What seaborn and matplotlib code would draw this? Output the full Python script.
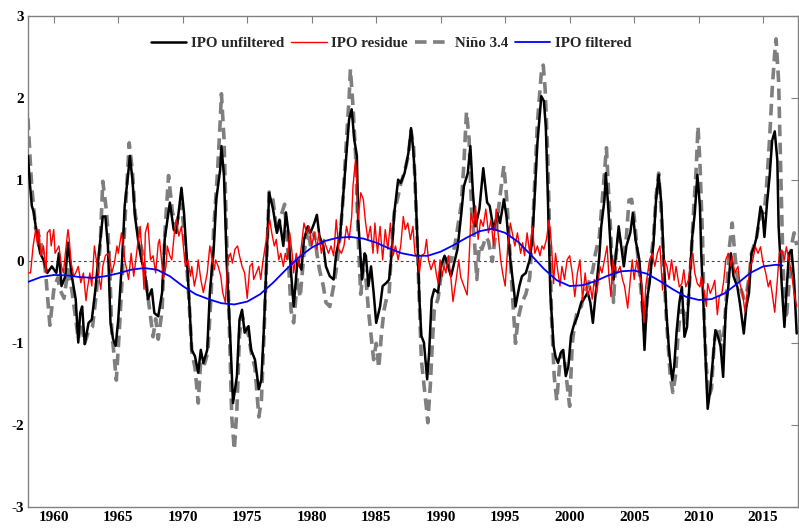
import numpy as np
import pandas as pd
import matplotlib
matplotlib.use("Agg")
import matplotlib.pyplot as plt
import seaborn as sns

# ---------------- data ----------------
ipo_t = [1958.0, 1958.15, 1958.3, 1958.45, 1958.7, 1958.95, 1959.2, 1959.5, 1959.85, 1960.2, 1960.4, 1960.6, 1960.9,
         1961.1, 1961.4, 1961.7, 1961.9, 1962.05, 1962.2, 1962.4, 1962.7, 1962.95, 1963.2, 1963.5, 1963.8, 1964.0,
         1964.2, 1964.4, 1964.6, 1964.8, 1965.0, 1965.3, 1965.5, 1965.8, 1965.9, 1966.1, 1966.3, 1966.6, 1966.8,
         1967.1, 1967.3, 1967.6, 1967.8, 1968.1, 1968.4, 1968.6, 1969.0, 1969.3, 1969.5, 1969.9, 1970.1, 1970.4,
         1970.7, 1970.95, 1971.2, 1971.4, 1971.6, 1971.9, 1972.1, 1972.4, 1972.6, 1972.9, 1973.0, 1973.2, 1973.4,
         1973.7, 1973.9, 1974.2, 1974.4, 1974.6, 1974.8, 1975.1, 1975.3, 1975.6, 1975.9, 1976.1, 1976.3, 1976.5,
         1976.7, 1977.0, 1977.3, 1977.5, 1977.8, 1978.0, 1978.2, 1978.4, 1978.6, 1978.9, 1979.2, 1979.4, 1979.7,
         1979.9, 1980.2, 1980.4, 1980.6, 1980.9, 1981.1, 1981.4, 1981.7, 1981.9, 1982.2, 1982.4, 1982.7, 1982.9,
         1983.1, 1983.3, 1983.5, 1983.6, 1983.9, 1984.1, 1984.2, 1984.4, 1984.6, 1984.8, 1985.0, 1985.3, 1985.5,
         1985.8, 1986.0, 1986.2, 1986.4, 1986.7, 1986.9, 1987.2, 1987.5, 1987.7, 1987.85, 1988.0, 1988.2, 1988.35,
         1988.5, 1988.7, 1988.95, 1989.1, 1989.3, 1989.5, 1989.8, 1990.0, 1990.3, 1990.5, 1990.8, 1991.1, 1991.3,
         1991.6, 1991.8, 1992.1, 1992.3, 1992.5, 1992.7, 1993.0, 1993.3, 1993.6, 1993.8, 1994.1, 1994.4, 1994.6,
         1994.9, 1995.1, 1995.4, 1995.7, 1995.8, 1996.1, 1996.3, 1996.6, 1996.9, 1997.1, 1997.3, 1997.5, 1997.8,
         1998.0, 1998.15, 1998.3, 1998.5, 1998.75, 1998.9, 1999.1, 1999.3, 1999.5, 1999.7, 1999.9, 2000.1, 2000.3,
         2000.6, 2000.9, 2001.1, 2001.4, 2001.6, 2001.8, 2002.0, 2002.3, 2002.45, 2002.7, 2002.8, 2003.0, 2003.2,
         2003.4, 2003.6, 2003.8, 2004.0, 2004.2, 2004.4, 2004.7, 2004.9, 2005.1, 2005.4, 2005.6, 2005.8, 2006.0,
         2006.2, 2006.5, 2006.7, 2006.9, 2007.1, 2007.3, 2007.5, 2007.7, 2007.95, 2008.1, 2008.3, 2008.5, 2008.7,
         2008.9, 2009.1, 2009.3, 2009.5, 2009.7, 2009.9, 2010.1, 2010.2, 2010.4, 2010.6, 2010.7, 2010.9, 2011.1,
         2011.3, 2011.5, 2011.7, 2011.9, 2012.1, 2012.3, 2012.5, 2012.7, 2013.0, 2013.2, 2013.5, 2013.7, 2013.9,
         2014.1, 2014.3, 2014.5, 2014.8, 2014.95, 2015.1, 2015.3, 2015.5, 2015.7, 2015.9, 2016.1, 2016.2, 2016.45,
         2016.65, 2016.8, 2017.0, 2017.2, 2017.4, 2017.6]
ipo_v = [1.29, 0.95, 0.68, 0.6, 0.31, 0.1, 0.02, -0.14, -0.06, -0.14, 0.1, -0.3, -0.18,
         0.23, -0.18, -0.46, -0.99, -0.63, -0.55, -1.01, -0.75, -0.71, -0.38, 0.1, 0.55, 0.55,
         0.19, -0.75, -0.95, -1.03, -0.71, 0.02, 0.68, 1.12, 1.29, 1.0, 0.55, 0.19, 0.02,
         -0.18, -0.46, -0.34, -0.63, -0.67, -0.38, 0.27, 0.72, 0.39, 0.35, 0.9, 0.59, -0.18,
         -1.08, -1.16, -1.36, -1.08, -1.24, -1.08, -0.38, 0.15, 0.76, 1.12, 1.41, 1.04, 0.02,
         -0.99, -1.73, -1.4, -0.71, -0.59, -0.87, -0.79, -1.08, -1.2, -1.56, -1.44, -0.79, 0.02,
         0.84, 0.64, 0.35, 0.51, 0.19, 0.6, 0.35, -0.14, -0.55, 0.02, -0.1, 0.27, 0.43,
         0.35, 0.47, 0.57, 0.31, 0.19, -0.06, -0.18, -0.22, 0.1, 0.31, 0.72, 1.33, 1.74,
         1.86, 1.49, 1.29, 0.51, -0.22, 0.1, 0.07, -0.3, -0.06, -0.38, -0.75, -0.55, -0.3,
         -0.26, -0.22, 0.1, 0.59, 1.0, 0.96, 1.08, 1.33, 1.63, 1.41, 1.06, 0.23, -0.46,
         -0.91, -0.99, -1.44, -1.12, -0.46, -0.34, -0.38, -0.06, 0.07, -0.02, -0.18, 0.02, 0.15,
         0.59, 0.92, 1.08, 1.41, 0.84, 0.43, 0.64, 1.14, 0.72, 0.68, 0.39, 0.59, 0.47,
         0.76, 0.55, 0.02, -0.38, -0.55, -0.3, -0.18, -0.14, 0.02, 0.27, 0.84, 1.45, 2.02,
         1.96, 1.65, 0.84, -0.38, -1.03, -1.16, -1.24, -1.12, -1.08, -1.4, -1.28, -0.91, -0.79,
         -0.67, -0.5, -0.46, -0.38, -0.5, -0.75, -0.42, 0.07, 0.43, 0.76, 1.08, 0.64, 0.1,
         -0.22, 0.1, 0.43, 0.19, -0.06, 0.19, 0.35, 0.59, 0.27, 0.02, -0.38, -1.08, -0.46,
         -0.26, 0.23, 0.76, 1.06, 0.72, 0.02, -0.63, -1.08, -1.45, -1.29, -0.84, -0.51, -0.31,
         -0.92, -0.8, -0.23, 0.3, 0.59, 1.06, 0.67, 0.1, -0.63, -1.45, -1.8, -1.57, -1.2,
         -0.84, -0.92, -1.04, -1.41, -0.59, -0.31, 0.1, -0.18, -0.31, -0.51, -0.88, -0.55, -0.39,
         0.1, 0.18, 0.3, 0.67, 0.59, 0.3, 0.71, 1.04, 1.48, 1.59, 1.24, 0.43, -0.31,
         -0.8, -0.39, 0.1, 0.14, -0.23, -0.88]

nino_t = [1958.0, 1958.15, 1958.3, 1958.6, 1958.9, 1959.2, 1959.4, 1959.7, 1960.0, 1960.3, 1960.5, 1960.8, 1961.1,
          1961.4, 1961.7, 1961.9, 1962.1, 1962.4, 1962.7, 1963.0, 1963.3, 1963.6, 1963.8, 1964.1, 1964.3, 1964.5,
          1964.7, 1964.85, 1965.1, 1965.4, 1965.6, 1965.85, 1966.1, 1966.3, 1966.6, 1966.9, 1967.2, 1967.4, 1967.7,
          1967.9, 1968.1, 1968.4, 1968.6, 1968.9, 1969.2, 1969.5, 1969.9, 1970.2, 1970.5, 1970.7, 1970.95, 1971.2,
          1971.4, 1971.7, 1971.95, 1972.2, 1972.4, 1972.7, 1972.9, 1973.0, 1973.2, 1973.4, 1973.6, 1973.8, 1974.0,
          1974.2, 1974.4, 1974.6, 1974.8, 1975.1, 1975.3, 1975.6, 1975.9, 1976.1, 1976.3, 1976.5, 1976.7, 1977.0,
          1977.3, 1977.6, 1977.9, 1978.2, 1978.4, 1978.6, 1978.9, 1979.1, 1979.4, 1979.7, 1979.9, 1980.2, 1980.4,
          1980.6, 1980.9, 1981.1, 1981.4, 1981.7, 1981.9, 1982.2, 1982.4, 1982.7, 1982.9, 1983.0, 1983.2, 1983.4,
          1983.6, 1983.8, 1984.0, 1984.2, 1984.4, 1984.6, 1984.8, 1985.0, 1985.2, 1985.4, 1985.6, 1985.8, 1986.0,
          1986.2, 1986.4, 1986.7, 1986.9, 1987.2, 1987.5, 1987.7, 1987.9, 1988.1, 1988.3, 1988.5, 1988.7, 1988.9,
          1989.0, 1989.2, 1989.35, 1989.5, 1989.8, 1990.0, 1990.3, 1990.5, 1990.8, 1991.1, 1991.3, 1991.6, 1991.8,
          1992.0, 1992.2, 1992.4, 1992.6, 1992.8, 1993.0, 1993.2, 1993.5, 1993.7, 1994.0, 1994.3, 1994.6, 1994.9,
          1995.1, 1995.3, 1995.6, 1995.8, 1996.0, 1996.3, 1996.6, 1996.9, 1997.1, 1997.3, 1997.5, 1997.8, 1997.95,
          1998.1, 1998.3, 1998.45, 1998.6, 1998.8, 1999.0, 1999.2, 1999.4, 1999.6, 1999.8, 2000.0, 2000.2, 2000.4,
          2000.6, 2000.9, 2001.1, 2001.4, 2001.6, 2001.8, 2002.0, 2002.3, 2002.5, 2002.7, 2002.85, 2003.0, 2003.2,
          2003.4, 2003.6, 2003.8, 2004.0, 2004.2, 2004.4, 2004.6, 2004.8, 2005.0, 2005.2, 2005.5, 2005.8, 2006.0,
          2006.2, 2006.5, 2006.7, 2006.9, 2007.1, 2007.3, 2007.5, 2007.8, 2008.0, 2008.2, 2008.4, 2008.6, 2008.8,
          2009.0, 2009.2, 2009.4, 2009.6, 2009.8, 2009.95, 2010.1, 2010.3, 2010.45, 2010.6, 2010.8, 2011.0, 2011.2,
          2011.4, 2011.6, 2011.8, 2012.0, 2012.2, 2012.4, 2012.6, 2012.8, 2013.0, 2013.3, 2013.5, 2013.7, 2013.9,
          2014.1, 2014.3, 2014.5, 2014.7, 2014.9, 2015.1, 2015.3, 2015.5, 2015.7, 2015.9, 2016.0, 2016.2, 2016.35,
          2016.5, 2016.65, 2016.8, 2017.0, 2017.2, 2017.4, 2017.6]
nino_v = [1.75, 1.3, 0.9, 0.4, 0.3, 0.1, -0.2, -0.78, -0.35, -0.2, -0.35, -0.45, -0.1,
          -0.35, -0.7, -0.95, -0.75, -1.0, -0.85, -0.8, -0.4, 0.2, 0.98, 0.6, 0.1, -0.85,
          -1.2, -1.45, -0.8, 0.1, 0.75, 1.45, 1.1, 0.6, 0.3, 0.1, -0.3, -0.55, -0.92,
          -0.7, -0.95, -0.6, 0.3, 1.05, 0.6, 0.45, 0.7, 0.2, -0.5, -1.1, -1.3, -1.73,
          -1.2, -1.25, -1.1, -0.4, 0.4, 1.1, 1.7, 2.05, 1.5, 0.3, -0.7, -1.9, -2.3,
          -1.8, -0.9, -0.65, -0.8, -0.9, -1.1, -1.3, -1.9, -1.7, -0.9, 0.0, 0.85, 0.75,
          0.35, 0.55, 0.7, 0.0, -0.6, -0.75, -0.2, -0.44, 0.1, 0.4, 0.2, 0.35, 0.1,
          -0.1, -0.3, -0.5, -0.55, -0.3, -0.1, 0.3, 0.7, 1.5, 2.0, 2.35, 1.9, 1.3,
          0.3, -0.4, -0.1, -0.2, -0.6, -0.9, -1.2, -1.0, -1.3, -0.9, -0.6, -0.45, -0.4,
          0.2, 0.6, 0.8, 0.95, 1.1, 1.3, 1.6, 1.4, 0.6, -0.3, -1.2, -1.5, -1.8,
          -1.97, -1.5, -1.0, -0.6, -0.45, -0.2, 0.0, 0.1, 0.0, 0.2, 0.4, 0.7, 1.2,
          1.83, 1.5, 0.6, 0.3, -0.22, 0.2, 0.15, 0.3, 0.25, 0.0, 0.4, 0.8, 1.17,
          0.8, 0.3, -0.5, -1.0, -0.7, -0.5, -0.4, -0.2, 0.3, 1.0, 1.7, 2.3, 2.4,
          2.1, 1.3, 0.3, -0.7, -1.4, -1.7, -1.3, -1.1, -1.2, -1.5, -1.77, -1.0, -0.75,
          -0.6, -0.55, -0.4, -0.3, -0.2, -0.1, 0.1, 0.3, 0.7, 1.1, 1.39, 0.9, 0.3,
          -0.5, 0.1, 0.3, 0.2, 0.1, 0.3, 0.75, 0.76, 0.55, 0.2, -0.3, -0.85, -0.5,
          -0.1, 0.3, 0.8, 1.08, 0.6, -0.1, -0.7, -1.4, -1.6, -1.4, -0.9, -0.6, -0.6,
          -0.75, -0.5, 0.0, 0.6, 1.1, 1.65, 1.2, 0.3, -0.8, -1.3, -1.65, -1.55, -1.0,
          -0.8, -0.85, -1.1, -0.8, -0.3, 0.2, 0.47, 0.1, -0.2, -0.35, -0.45, -0.4, -0.2,
          0.1, 0.2, 0.3, 0.5, 0.6, 0.6, 1.0, 1.5, 2.1, 2.55, 2.72, 2.2, 1.2,
          0.2, -0.5, -0.7, -0.3, 0.2, 0.35, 0.2]

resid_t = [1958.0, 1958.2, 1958.4, 1958.6, 1958.75, 1958.85, 1959.0, 1959.2, 1959.4, 1959.5, 1959.7, 1959.8, 1960.0,
           1960.1, 1960.4, 1960.6, 1960.75, 1960.9, 1961.1, 1961.2, 1961.35, 1961.55, 1961.7, 1961.9, 1962.1, 1962.3,
           1962.5, 1962.6, 1962.8, 1962.95, 1963.15, 1963.3, 1963.45, 1963.65, 1963.8, 1964.0, 1964.2, 1964.35, 1964.5,
           1964.7, 1964.9, 1965.0, 1965.25, 1965.4, 1965.5, 1965.8, 1966.0, 1966.2, 1966.3, 1966.55, 1966.7, 1966.8,
           1967.0, 1967.1, 1967.3, 1967.5, 1967.7, 1967.9, 1968.1, 1968.2, 1968.4, 1968.5, 1968.7, 1968.8, 1969.0,
           1969.15, 1969.35, 1969.5, 1969.7, 1969.9, 1970.05, 1970.2, 1970.4, 1970.6, 1970.7, 1970.9, 1971.1, 1971.2,
           1971.4, 1971.6, 1971.8, 1971.9, 1972.1, 1972.2, 1972.45, 1972.55, 1972.75, 1972.95, 1973.1, 1973.3, 1973.5,
           1973.7, 1973.85, 1974.05, 1974.25, 1974.4, 1974.6, 1974.8, 1975.0, 1975.2, 1975.4, 1975.5, 1975.7, 1975.9,
           1976.05, 1976.2, 1976.4, 1976.55, 1976.75, 1976.9, 1977.1, 1977.25, 1977.45, 1977.6, 1977.8, 1977.95, 1978.1,
           1978.3, 1978.5, 1978.6, 1978.8, 1979.0, 1979.2, 1979.4, 1979.6, 1979.8, 1980.0, 1980.2, 1980.4, 1980.55,
           1980.75, 1980.95, 1981.1, 1981.3, 1981.5, 1981.7, 1981.9, 1982.1, 1982.3, 1982.5, 1982.7, 1982.9, 1983.1,
           1983.2, 1983.4, 1983.5, 1983.6, 1983.8, 1984.0, 1984.15, 1984.35, 1984.55, 1984.75, 1984.9, 1985.1, 1985.3,
           1985.5, 1985.7, 1985.9, 1986.1, 1986.3, 1986.5, 1986.7, 1986.9, 1987.1, 1987.25, 1987.45, 1987.65, 1987.85,
           1988.0, 1988.2, 1988.35, 1988.5, 1988.75, 1988.9, 1989.05, 1989.25, 1989.5, 1989.65, 1989.8, 1989.95, 1990.1,
           1990.25, 1990.4, 1990.6, 1990.8, 1990.95, 1991.2, 1991.4, 1991.55, 1991.8, 1992.05, 1992.2, 1992.35, 1992.55,
           1992.7, 1992.9, 1993.1, 1993.3, 1993.5, 1993.7, 1993.9, 1994.1, 1994.3, 1994.45, 1994.65, 1994.8, 1995.0,
           1995.2, 1995.4, 1995.6, 1995.75, 1995.95, 1996.2, 1996.35, 1996.5, 1996.7, 1996.9, 1997.1, 1997.3, 1997.5,
           1997.7, 1997.85, 1998.0, 1998.2, 1998.4, 1998.6, 1998.75, 1998.9, 1999.1, 1999.25, 1999.4, 1999.6, 1999.8,
           2000.0, 2000.2, 2000.4, 2000.6, 2000.8, 2001.0, 2001.2, 2001.4, 2001.6, 2001.75, 2001.9, 2002.1, 2002.35,
           2002.5, 2002.7, 2002.9, 2003.05, 2003.2, 2003.35, 2003.5, 2003.7, 2003.9, 2004.1, 2004.25, 2004.5, 2004.7,
           2004.85, 2005.0, 2005.2, 2005.4, 2005.6, 2005.75, 2005.9, 2006.05, 2006.2, 2006.4, 2006.6, 2006.8, 2007.0,
           2007.2, 2007.35, 2007.55, 2007.7, 2007.9, 2008.1, 2008.25, 2008.5, 2008.7, 2008.85, 2009.0, 2009.2, 2009.4,
           2009.55, 2009.7, 2009.9, 2010.1, 2010.2, 2010.4, 2010.6, 2010.7, 2010.9, 2011.1, 2011.25, 2011.45, 2011.6,
           2011.8, 2011.95, 2012.1, 2012.3, 2012.5, 2012.6, 2012.8, 2013.05, 2013.2, 2013.4, 2013.6, 2013.8, 2014.0,
           2014.2, 2014.4, 2014.6, 2014.8, 2014.95, 2015.2, 2015.4, 2015.55, 2015.7, 2015.9, 2016.1, 2016.25, 2016.45,
           2016.65, 2016.8, 2017.0, 2017.2, 2017.4, 2017.6]
resid_v = [-0.14, -0.14, 0.19, 0.39, 0.19, 0.39, 0.07, 0.19, -0.14, 0.35, 0.39, 0.19, 0.39,
           0.1, 0.19, -0.06, -0.14, 0.1, 0.39, 0.27, -0.02, -0.18, -0.14, -0.06, -0.26, -0.14,
           -0.48, -0.34, -0.14, -0.3, 0.19, 0.02, -0.14, -0.34, -0.06, 0.07, 0.1, 0.02, -0.14,
           -0.02, 0.19, 0.1, 0.35, 0.19, 0.02, -0.22, 0.1, -0.18, -0.06, 0.27, 0.43, 0.19,
           -0.34, 0.35, 0.47, 0.02, 0.07, -0.14, 0.22, 0.27, -0.06, -0.22, -0.06, 0.19, 0.07,
           0.02, 0.35, 0.51, 0.31, 0.43, 0.19, -0.06, 0.02, -0.18, -0.06, -0.3, -0.14, 0.02,
           -0.22, -0.38, -0.22, -0.14, 0.19, 0.1, -0.1, 0.02, -0.06, -0.18, -0.38, -0.5, 0.02,
           0.1, -0.02, 0.15, 0.19, 0.07, -0.06, -0.14, -0.45, -0.06, -0.02, -0.22, -0.14, -0.06,
           -0.22, -0.02, 0.19, 0.35, 0.51, 0.35, 0.19, 0.27, 0.02, 0.1, -0.06, 0.1, 0.02,
           0.35, 0.07, -0.14, 0.1, -0.06, 0.19, 0.47, 0.35, 0.43, 0.19, 0.35, 0.15, 0.35,
           0.1, 0.27, 0.19, 0.1, 0.19, 0.07, 0.51, 0.15, 0.1, 0.19, 0.43, 0.27, 0.55,
           0.92, 1.25, 0.92, 0.51, 0.84, 0.76, 0.51, 0.27, 0.43, 0.1, 0.47, 0.1, 0.43,
           0.02, 0.39, 0.15, 0.47, 0.07, 0.19, 0.02, 0.19, 0.55, 0.39, 0.47, 0.27, 0.43,
           0.1, 0.05, -0.14, 0.07, 0.1, 0.27, 0.02, -0.1, 0.02, -0.14, -0.27, 0.02, -0.18,
           -0.06, -0.14, 0.07, -0.22, -0.49, -0.22, 0.02, -0.19, -0.3, -0.41, 0.02, 0.59, 0.43,
           0.68, 0.27, 0.51, 0.43, 0.64, 0.35, 0.51, 0.19, 0.64, 0.35, 0.02, -0.14, -0.3,
           0.19, 0.47, 0.31, 0.19, 0.35, 0.1, 0.23, 0.07, 0.35, 0.1, 0.43, 0.1, 0.19,
           0.07, 0.19, 0.15, 0.27, 0.51, 0.19, -0.27, 0.1, -0.14, -0.3, -0.06, -0.22, 0.02,
           0.07, -0.14, -0.43, -0.14, 0.02, -0.47, -0.14, -0.42, -0.3, -0.46, -0.22, -0.39, -0.06,
           -0.14, 0.02, 0.19, -0.2, -0.43, 0.02, -0.1, -0.14, -0.06, -0.22, -0.3, -0.57, -0.22,
           0.02, -0.22, 0.02, -0.14, -0.3, -0.75, -0.3, -0.14, 0.02, 0.1, -0.06, 0.1, 0.19,
           -0.35, 0.02, -0.06, -0.22, 0.02, -0.23, -0.06, -0.31, -0.27, -0.1, -0.31, -0.23, 0.02,
           0.1, -0.14, -0.27, -0.31, -0.18, -0.35, -0.55, -0.27, -0.39, -0.31, -0.23, -0.65, -0.43,
           -0.39, -0.23, 0.02, 0.1, -0.06, 0.06, -0.14, -0.06, -0.27, -0.39, -0.62, -0.31, -0.06,
           0.02, 0.18, 0.1, 0.18, 0.02, -0.14, -0.31, -0.23, -0.39, -0.62, -0.23, 0.1, 0.14,
           0.02, 0.18, 0.02, -0.14, -0.39, -0.55]

filt_t = [1958, 1959, 1960, 1961, 1962, 1963, 1964, 1965, 1966, 1967, 1968, 1969, 1970, 1971, 1972, 1973, 1974,
          1975, 1976, 1977, 1978, 1979, 1980, 1981, 1982, 1983, 1984, 1985, 1986, 1987, 1988, 1989, 1990, 1991,
          1992, 1993, 1994, 1995, 1996, 1997, 1998, 1999, 2000, 2001, 2002, 2003, 2004, 2005, 2006, 2007, 2008,
          2009, 2010, 2011, 2012, 2013, 2014, 2015, 2016, 2016.5]
filt_v = [-0.25, -0.19, -0.165, -0.17, -0.19, -0.2, -0.18, -0.145, -0.1, -0.08, -0.1, -0.18, -0.3, -0.4, -0.46,
          -0.51, -0.525, -0.49, -0.4, -0.26, -0.1, 0.05, 0.17, 0.25, 0.29, 0.3, 0.28, 0.23, 0.16, 0.1, 0.07, 0.07,
          0.12, 0.2, 0.29, 0.37, 0.4, 0.35, 0.24, 0.08, -0.09, -0.23, -0.3, -0.29, -0.24, -0.17, -0.12, -0.11,
          -0.15, -0.24, -0.34, -0.43, -0.47, -0.46, -0.39, -0.27, -0.14, -0.06, -0.04, -0.05]

year_ticks = [1960, 1965, 1970, 1975, 1980, 1985, 1990, 1995, 2000, 2005, 2010, 2015]
value_ticks = [-3, -2, -1, 0, 1, 2, 3]

# ---------------- figure ----------------
sns.set_style("white")
plt.rcParams['font.family'] = ['Liberation Serif', 'DejaVu Serif']
plt.rcParams['font.weight'] = 'bold'

fig = plt.figure(figsize=(7.99, 5.28), dpi=100)
ax = fig.add_axes([0.035, 0.0398, 0.9637, 0.9299])

ax.axhline(0, color='#444444', lw=0.8, ls=(0, (2.5, 2.5)), zorder=1)

sns.lineplot(x=nino_t, y=nino_v, ax=ax, color='#7f7f7f', lw=2.6, sort=False, estimator=None,
             label='Niño 3.4', zorder=2)
ax.lines[-1].set_dashes((3.2, 1.8))
sns.lineplot(x=ipo_t, y=ipo_v, ax=ax, color='black', lw=1.8, sort=False, estimator=None,
             label='IPO unfiltered', zorder=3)
sns.lineplot(x=resid_t, y=resid_v, ax=ax, color='red', lw=1.0, sort=False, estimator=None,
             label='IPO residue', zorder=4)
sns.lineplot(x=filt_t, y=filt_v, ax=ax, color='#0000ff', lw=1.3, sort=False, estimator=None,
             label='IPO filtered', zorder=5)

ax.set_xlim(1958.0, 2017.7)
ax.set_ylim(-3, 3)
ax.set_xticks(year_ticks)
ax.set_yticks(value_ticks)
ax.set_xticklabels([str(t) for t in year_ticks], fontweight='bold')
ax.set_yticklabels([str(t) for t in value_ticks], fontweight='bold')
ax.set_xlabel('')
ax.set_ylabel('')
ax.tick_params(direction='in', top=True, right=True, length=5, width=0.8, color='#808080',
               labelsize=11, labelcolor='black', pad=3)
for s in ax.spines.values():
    s.set_visible(True)
    s.set_color('#808080')
    s.set_linewidth(1.0)

h, l = ax.get_legend_handles_labels()
order = ['IPO unfiltered', 'IPO residue', 'Niño 3.4', 'IPO filtered']
hh = [h[l.index(o)] for o in order]
leg = ax.legend(hh, order, loc='center', bbox_to_anchor=(0.472, 0.945), ncol=4, frameon=False,
                handlelength=2.35, handletextpad=0.33, columnspacing=0.45,
                prop={'weight': 'bold', 'size': 10.8})

fig.savefig('out.png', dpi=100)
